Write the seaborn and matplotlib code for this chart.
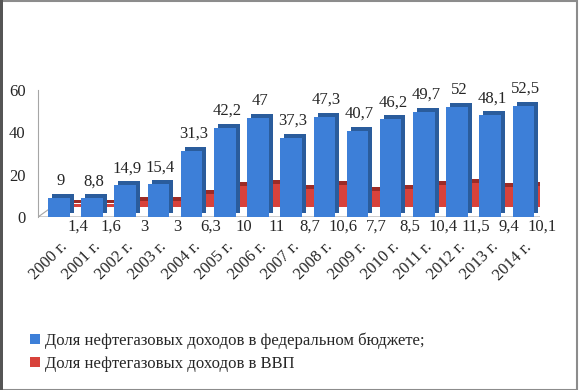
import numpy as np
import pandas as pd
import matplotlib
matplotlib.use("Agg")
from matplotlib import pyplot as plt
from matplotlib import transforms
from matplotlib.patches import Patch, Polygon, Rectangle
import seaborn as sns

years = ["2000 г.", "2001 г.", "2002 г.", "2003 г.", "2004 г.", "2005 г.", "2006 г.", "2007 г.",
         "2008 г.", "2009 г.", "2010 г.", "2011 г.", "2012 г.", "2013 г.", "2014 г."]
budget_share = [9, 8.8, 14.9, 15.4, 31.3, 42.2, 47, 37.3, 47.3, 40.7, 46.2, 49.7, 52, 48.1, 52.5]
gdp_share = [1.4, 1.6, 3, 3, 6.3, 10, 11, 8.7, 10.6, 7.7, 8.5, 10.4, 11.5, 9.4, 10.1]
series_names = ["Доля нефтегазовых доходов в федеральном бюджете;",
                "Доля нефтегазовых доходов в ВВП"]
y_ticks = [0, 20, 40, 60]

front_colors = {series_names[0]: "#3d7fd8", series_names[1]: "#d8423b"}
side_colors = {series_names[0]: "#2a5c9c", series_names[1]: "#9c2b26"}


def fmt(v):
    return f"{v:g}".replace(".", ",")


df = pd.DataFrame({"Год": years * 2,
                   "Значение": budget_share + gdp_share,
                   "Ряд": [series_names[0]] * len(years) + [series_names[1]] * len(years)})

sns.set_theme(style="white")
plt.rcParams["font.family"] = "serif"
plt.rcParams["font.serif"] = ["Liberation Serif", "DejaVu Serif"]

fig = plt.figure(figsize=(5.79, 3.9), dpi=100)
ax = fig.add_axes([38 / 579, 1 - 217 / 390, (540 - 38) / 579, 127 / 390])
ax.patch.set_alpha(0)

# shadow bars (side / top of the 3d boxes), then the front faces
sns.barplot(data=df, x="Год", y="Значение", hue="Ряд", dodge=False, width=0.65,
            palette=side_colors, ax=ax, legend=False, saturation=1)
sns.barplot(data=df, x="Год", y="Значение", hue="Ряд", dodge=False, width=0.65,
            palette=front_colors, ax=ax, legend=False, saturation=1)

def shift(dx, dy):
    return ax.transData + transforms.Affine2D().translate(dx, dy)

# (container, offset in px, zorder)
setup = [(ax.containers[1], (16, 14), 1.0), (ax.containers[3], (12, 10), 1.1),
         (ax.containers[0], (4, 4), 2.0), (ax.containers[2], (0, 0), 2.1)]
for cont, (dx, dy), z in setup:
    for p in cont:
        p.set_transform(shift(dx, dy))
        p.set_zorder(z)
        p.set_linewidth(0)

ax.set_xlim(-0.63, 14.5)
ax.set_ylim(0, 60)
ax.set_yticks(y_ticks)
ax.set_yticklabels([str(t) for t in y_ticks], fontsize=12)
ax.tick_params(axis="y", length=0, pad=9)
ax.set_xlabel("")
ax.set_ylabel("")
for s in ["top", "right", "bottom"]:
    ax.spines[s].set_visible(False)
ax.spines["left"].set_color("#a6a6a6")
ax.spines["left"].set_linewidth(0.8)

# floor of the 3d chart
fl = transforms.blended_transform_factory(ax.transData, ax.transAxes)
x0, x1 = -0.63, 14.5
pts = fl.transform([(x0, 0), (x1, 0)])
floor = Polygon([pts[0], pts[1], pts[1] + [21, 15], pts[0] + [21, 15]], closed=True,
                fill=False, edgecolor="#a6a6a6", linewidth=0.8,
                transform=None, zorder=0.5)
ax.add_artist(floor)

ax.set_xticks(range(len(years)))
ax.set_xticklabels(years, rotation=45, ha="right", va="center",
                   rotation_mode="anchor", fontsize=12)
ax.tick_params(axis="x", length=0, pad=20)
for lab in ax.get_xticklabels():
    lab.set_transform(lab.get_transform() + transforms.Affine2D().translate(6, 0))

for i, v in enumerate(budget_share):
    ax.annotate(fmt(v), (i, v), xytext=(2, 9), textcoords="offset pixels",
                ha="center", va="bottom", fontsize=12, annotation_clip=False, zorder=5)
for i, v in enumerate(gdp_share):
    ax.annotate(fmt(v), (i + 0.57, 0), xytext=(0, -10), textcoords="offset pixels",
                ha="center", va="center", fontsize=12, annotation_clip=False, zorder=5)

handles = [Patch(facecolor=front_colors[n], edgecolor="none") for n in series_names]
fig.legend(handles, series_names, loc="upper left", bbox_to_anchor=(22 / 579, 1 - 324 / 390),
           frameon=False, fontsize=12, handlelength=0.55, handleheight=0.55,
           handletextpad=0.35, labelspacing=0.45, borderpad=0)

fig.patches.append(Rectangle((0.5 / 579, 0.5 / 390), 1 - 2.5 / 579, 1 - 1.5 / 390,
                             transform=fig.transFigure, fill=False,
                             edgecolor="#8c8c8c", linewidth=1.5))
fig.patches.append(Rectangle((0, 0), 2.5 / 579, 1, transform=fig.transFigure,
                             facecolor="#555555", edgecolor="none"))

fig.savefig("out.png", dpi=100)
